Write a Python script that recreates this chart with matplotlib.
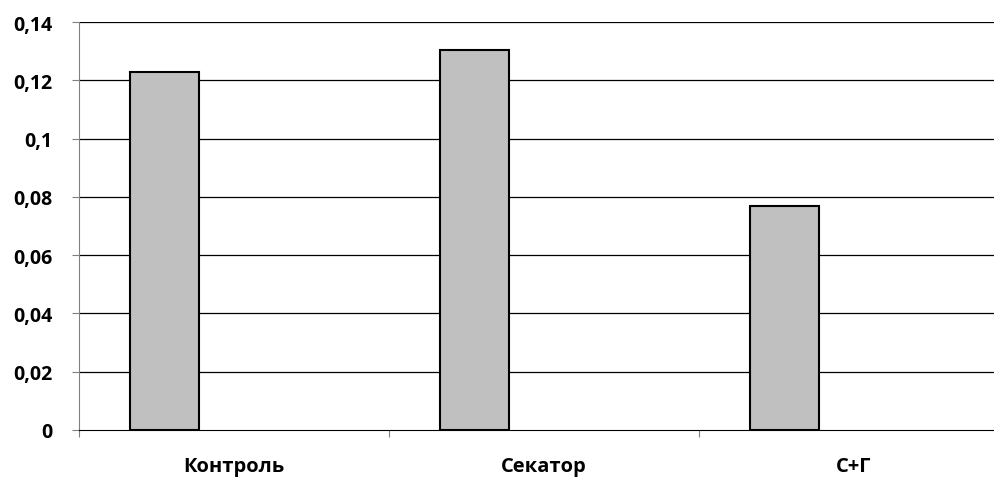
import matplotlib
matplotlib.use("Agg")
import matplotlib.pyplot as plt
import numpy as np

categories = ["Контроль", "Секатор", "С+Г"]
values = [0.1230, 0.1305, 0.0768]
yticks = [0, 0.02, 0.04, 0.06, 0.08, 0.1, 0.12, 0.14]
ytick_labels = ["0", "0,02", "0,04", "0,06", "0,08", "0,1", "0,12", "0,14"]

plt.rcParams['font.family'] = ['Open Sans', 'DejaVu Sans']

W, H = 995, 481
fig = plt.figure(figsize=(W / 100, H / 100), dpi=100)
left, right = 79 / W, 1009 / W
bottom, top = (H - 431) / H, (H - 23) / H
ax = fig.add_axes([left, bottom, right - left, top - bottom])

x = np.arange(len(categories))
ax.bar(x - 0.224, values, width=0.223, color="#C0C0C0", edgecolor="black", linewidth=1.5, zorder=3)

ax.set_xlim(-0.5, len(categories) - 0.5)
ax.set_ylim(0, 0.14)
ax.set_yticks(yticks)
ax.set_yticklabels(ytick_labels, fontsize=14, fontweight="bold")
for yv in yticks[1:]:
    ax.axhline(yv, color="black", linewidth=0.9, zorder=1)

ax.set_xticks(np.arange(len(categories) + 1) - 0.5, minor=False)
ax.set_xticklabels([])
ax.set_xticks(x, minor=True)
ax.set_xticklabels(categories, minor=True, fontsize=14.5, fontweight="bold")
ax.tick_params(axis="x", which="minor", length=0, pad=19)
ax.tick_params(axis="x", which="major", length=5, direction="out", color="#808080")
ax.tick_params(axis="y", length=5, direction="out", color="#808080", pad=14)

for s in ["top", "right"]:
    ax.spines[s].set_visible(False)
ax.spines["left"].set_color("#808080")
ax.spines["bottom"].set_color("black")

fig.savefig("out.png", dpi=100)
